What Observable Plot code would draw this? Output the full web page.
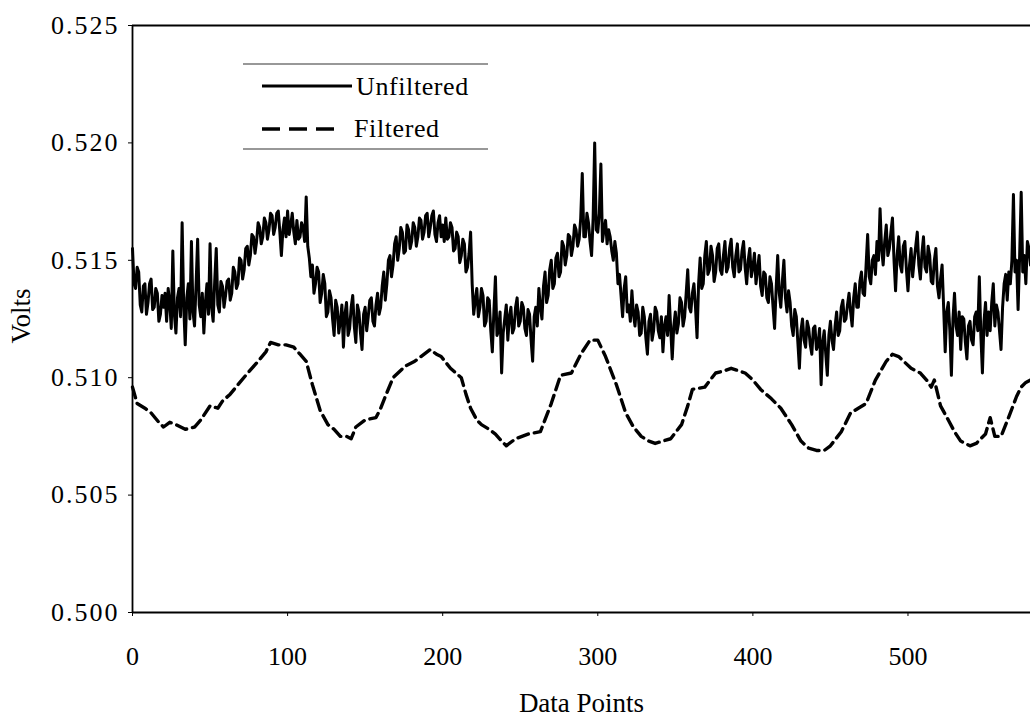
<!DOCTYPE html>
<html>
<head>
<meta charset="utf-8">
<script src="https://cdn.jsdelivr.net/npm/d3@7"></script>
<script src="https://cdn.jsdelivr.net/npm/@observablehq/plot@0.6"></script>
<style>
  body { margin: 0; background: #fff; }
  #chart { position: relative; width: 1030px; height: 718px; overflow: hidden; }
  #chart svg { font-family: "Liberation Serif", "Times New Roman", serif; }
</style>
</head>
<body>
<div id="chart"></div>
<script>
// Raw signal, one reading per data point (x = 0 ... 579), 20 readings per row
const unfilteredVolts = [
  0.5155, 0.5140, 0.5138, 0.5147, 0.5145, 0.5131, 0.5128, 0.5139, 0.5140, 0.5127, 0.5132, 0.5140, 0.5142, 0.5129, 0.5130, 0.5138, 0.5136, 0.5124, 0.5127, 0.5135,
  0.5130, 0.5136, 0.5124, 0.5138, 0.5132, 0.5121, 0.5154, 0.5127, 0.5119, 0.5134, 0.5138, 0.5126, 0.5166, 0.5131, 0.5114, 0.5134, 0.5140, 0.5125, 0.5158, 0.5128,
  0.5122, 0.5140, 0.5159, 0.5131, 0.5126, 0.5136, 0.5119, 0.5132, 0.5140, 0.5127, 0.5157, 0.5130, 0.5124, 0.5141, 0.5155, 0.5131, 0.5128, 0.5141, 0.5139, 0.5130,
  0.5135, 0.5141, 0.5142, 0.5133, 0.5136, 0.5147, 0.5145, 0.5138, 0.5140, 0.5151, 0.5150, 0.5142, 0.5146, 0.5155, 0.5156, 0.5148, 0.5152, 0.5161, 0.5160, 0.5153,
  0.5158, 0.5166, 0.5164, 0.5157, 0.5160, 0.5168, 0.5166, 0.5159, 0.5163, 0.5170, 0.5169, 0.5161, 0.5164, 0.5170, 0.5171, 0.5162, 0.5152, 0.5163, 0.5168, 0.5160,
  0.5171, 0.5161, 0.5165, 0.5170, 0.5162, 0.5157, 0.5167, 0.5159, 0.5160, 0.5166, 0.5164, 0.5158, 0.5177, 0.5156, 0.5151, 0.5143, 0.5148, 0.5136, 0.5140, 0.5147,
  0.5145, 0.5132, 0.5136, 0.5144, 0.5140, 0.5126, 0.5128, 0.5137, 0.5134, 0.5125, 0.5118, 0.5133, 0.5130, 0.5119, 0.5124, 0.5131, 0.5113, 0.5127, 0.5132, 0.5118,
  0.5121, 0.5130, 0.5135, 0.5122, 0.5115, 0.5131, 0.5128, 0.5119, 0.5112, 0.5127, 0.5130, 0.5120, 0.5126, 0.5133, 0.5134, 0.5124, 0.5122, 0.5131, 0.5136, 0.5127,
  0.5130, 0.5139, 0.5145, 0.5133, 0.5140, 0.5150, 0.5152, 0.5143, 0.5148, 0.5157, 0.5160, 0.5150, 0.5155, 0.5164, 0.5162, 0.5153, 0.5154, 0.5165, 0.5163, 0.5155,
  0.5158, 0.5166, 0.5164, 0.5156, 0.5160, 0.5168, 0.5167, 0.5159, 0.5162, 0.5169, 0.5170, 0.5160, 0.5164, 0.5169, 0.5171, 0.5161, 0.5158, 0.5166, 0.5169, 0.5160,
  0.5165, 0.5158, 0.5168, 0.5159, 0.5160, 0.5166, 0.5164, 0.5154, 0.5155, 0.5162, 0.5160, 0.5149, 0.5152, 0.5159, 0.5157, 0.5145, 0.5147, 0.5153, 0.5162, 0.5140,
  0.5127, 0.5133, 0.5138, 0.5126, 0.5130, 0.5138, 0.5135, 0.5122, 0.5124, 0.5134, 0.5133, 0.5120, 0.5111, 0.5128, 0.5143, 0.5118, 0.5120, 0.5128, 0.5102, 0.5119,
  0.5125, 0.5131, 0.5116, 0.5126, 0.5130, 0.5119, 0.5121, 0.5130, 0.5134, 0.5122, 0.5124, 0.5132, 0.5130, 0.5121, 0.5118, 0.5129, 0.5127, 0.5116, 0.5107, 0.5126,
  0.5130, 0.5122, 0.5138, 0.5130, 0.5125, 0.5139, 0.5145, 0.5132, 0.5135, 0.5146, 0.5150, 0.5138, 0.5140, 0.5151, 0.5153, 0.5143, 0.5145, 0.5158, 0.5156, 0.5148,
  0.5152, 0.5161, 0.5160, 0.5152, 0.5156, 0.5165, 0.5163, 0.5156, 0.5159, 0.5168, 0.5187, 0.5160, 0.5160, 0.5170, 0.5166, 0.5158, 0.5152, 0.5168, 0.5200, 0.5163,
  0.5162, 0.5170, 0.5191, 0.5158, 0.5163, 0.5167, 0.5157, 0.5163, 0.5160, 0.5154, 0.5150, 0.5158, 0.5153, 0.5140, 0.5144, 0.5135, 0.5126, 0.5138, 0.5143, 0.5128,
  0.5131, 0.5124, 0.5137, 0.5127, 0.5122, 0.5131, 0.5128, 0.5118, 0.5119, 0.5130, 0.5126, 0.5117, 0.5110, 0.5124, 0.5127, 0.5116, 0.5120, 0.5130, 0.5128, 0.5120,
  0.5117, 0.5126, 0.5111, 0.5122, 0.5126, 0.5118, 0.5135, 0.5121, 0.5108, 0.5122, 0.5128, 0.5119, 0.5123, 0.5134, 0.5132, 0.5122, 0.5126, 0.5136, 0.5146, 0.5130,
  0.5128, 0.5136, 0.5140, 0.5130, 0.5117, 0.5140, 0.5151, 0.5138, 0.5140, 0.5152, 0.5158, 0.5144, 0.5146, 0.5156, 0.5152, 0.5141, 0.5145, 0.5155, 0.5157, 0.5146,
  0.5144, 0.5152, 0.5158, 0.5145, 0.5147, 0.5155, 0.5159, 0.5147, 0.5143, 0.5152, 0.5157, 0.5145, 0.5146, 0.5154, 0.5158, 0.5147, 0.5140, 0.5150, 0.5155, 0.5143,
  0.5147, 0.5153, 0.5140, 0.5146, 0.5152, 0.5139, 0.5135, 0.5145, 0.5144, 0.5134, 0.5132, 0.5143, 0.5140, 0.5130, 0.5121, 0.5138, 0.5152, 0.5136, 0.5130, 0.5141,
  0.5150, 0.5134, 0.5128, 0.5137, 0.5132, 0.5122, 0.5118, 0.5129, 0.5126, 0.5115, 0.5104, 0.5120, 0.5125, 0.5116, 0.5113, 0.5124, 0.5121, 0.5114, 0.5110, 0.5121,
  0.5122, 0.5112, 0.5114, 0.5121, 0.5097, 0.5115, 0.5120, 0.5110, 0.5101, 0.5118, 0.5124, 0.5116, 0.5112, 0.5122, 0.5128, 0.5118, 0.5120, 0.5130, 0.5133, 0.5124,
  0.5125, 0.5131, 0.5136, 0.5128, 0.5122, 0.5134, 0.5140, 0.5130, 0.5130, 0.5141, 0.5145, 0.5136, 0.5135, 0.5148, 0.5161, 0.5143, 0.5140, 0.5150, 0.5152, 0.5144,
  0.5158, 0.5150, 0.5172, 0.5155, 0.5148, 0.5158, 0.5165, 0.5152, 0.5155, 0.5162, 0.5168, 0.5150, 0.5137, 0.5152, 0.5160, 0.5148, 0.5145, 0.5156, 0.5158, 0.5146,
  0.5137, 0.5148, 0.5155, 0.5143, 0.5150, 0.5156, 0.5162, 0.5148, 0.5142, 0.5153, 0.5160, 0.5147, 0.5145, 0.5156, 0.5152, 0.5141, 0.5140, 0.5150, 0.5155, 0.5139,
  0.5134, 0.5142, 0.5148, 0.5130, 0.5111, 0.5128, 0.5132, 0.5120, 0.5101, 0.5125, 0.5136, 0.5122, 0.5118, 0.5128, 0.5112, 0.5126, 0.5125, 0.5115, 0.5108, 0.5122,
  0.5124, 0.5116, 0.5114, 0.5126, 0.5128, 0.5120, 0.5143, 0.5118, 0.5102, 0.5124, 0.5132, 0.5118, 0.5128, 0.5120, 0.5132, 0.5140, 0.5122, 0.5131, 0.5128, 0.5120,
  0.5112, 0.5130, 0.5140, 0.5144, 0.5133, 0.5145, 0.5140, 0.5150, 0.5178, 0.5145, 0.5150, 0.5129, 0.5152, 0.5179, 0.5145, 0.5152, 0.5140, 0.5158, 0.5155, 0.5148
];

// Smoothed signal: data point index and voltage
const filteredPoints = [
  0, 3, 8, 12, 17, 20, 24, 28, 34, 40, 44, 50, 55, 58, 63, 68, 73, 81, 86, 89,
  94, 99, 104, 108, 112, 116, 121, 126, 130, 134, 138, 141, 144, 150, 157, 160, 163, 168, 176, 182,
  186, 192, 196, 199, 205, 212, 215, 218, 222, 225, 230, 234, 238, 241, 247, 255, 263, 270, 276, 283,
  289, 295, 300, 305, 312, 318, 323, 328, 333, 337, 342, 347, 354, 358, 361, 369, 376, 382, 386, 395,
  400, 405, 412, 418, 425, 431, 436, 441, 446, 450, 457, 463, 468, 473, 479, 486, 490, 494, 502, 508,
  512, 515, 517, 521, 526, 530, 534, 540, 544, 550, 553, 556, 560, 566, 570, 573, 576, 579
];
const filteredVolts = [
  0.5096, 0.5089, 0.5087, 0.5085, 0.5081, 0.5079, 0.5081, 0.5080, 0.5078, 0.5079, 0.5082, 0.5088, 0.5087, 0.5090, 0.5093, 0.5097, 0.5101, 0.5107, 0.5111, 0.5115,
  0.5114, 0.5114, 0.5113, 0.5110, 0.5107, 0.5097, 0.5086, 0.5080, 0.5078, 0.5075, 0.5075, 0.5074, 0.5079, 0.5082, 0.5083, 0.5087, 0.5092, 0.5100, 0.5105, 0.5107,
  0.5109, 0.5112, 0.5110, 0.5109, 0.5104, 0.5100, 0.5093, 0.5087, 0.5082, 0.5080, 0.5078, 0.5076, 0.5073, 0.5071, 0.5074, 0.5076, 0.5077, 0.5089, 0.5101, 0.5102,
  0.5110, 0.5116, 0.5116, 0.5109, 0.5097, 0.5085, 0.5079, 0.5075, 0.5073, 0.5072, 0.5073, 0.5074, 0.5080, 0.5088, 0.5095, 0.5096, 0.5102, 0.5103, 0.5104, 0.5102,
  0.5099, 0.5095, 0.5091, 0.5087, 0.5080, 0.5073, 0.5070, 0.5069, 0.5069, 0.5071, 0.5077, 0.5085, 0.5087, 0.5089, 0.5099, 0.5107, 0.5110, 0.5109, 0.5104, 0.5102,
  0.5099, 0.5096, 0.5099, 0.5088, 0.5082, 0.5077, 0.5073, 0.5071, 0.5072, 0.5076, 0.5083, 0.5075, 0.5075, 0.5085, 0.5092, 0.5096, 0.5098, 0.5099
];

const xTicks = [0, 100, 200, 300, 400, 500];
const yTicks = [0.500, 0.505, 0.510, 0.515, 0.520, 0.525];
const seriesNames = ["Unfiltered", "Filtered"];
const xLabel = "Data Points";
const yLabel = "Volts";

const unfiltered = unfilteredVolts.map((v, i) => ({x: i, v}));
const filtered = filteredPoints.map((x, i) => ({x, v: filteredVolts[i]}));

const chart = Plot.plot({
  width: 1030,
  height: 718,
  marginLeft: 132,
  marginRight: 0,
  marginTop: 25,
  marginBottom: 106,
  style: {fontFamily: "'Liberation Serif', serif", fontSize: "26px", color: "#000", background: "#fff", overflow: "visible"},
  x: {domain: [0, 579]},
  y: {domain: [0.5, 0.525]},
  marks: [
    Plot.axisX({ticks: xTicks, tickFormat: d => String(d), tickSize: 4, tickPadding: 30, label: null, fontSize: 26}),
    Plot.axisY({ticks: yTicks, tickFormat: d3.format(".3f"), tickSize: 4, tickPadding: 9, label: null, fontSize: 26}),
    Plot.ruleX([0], {stroke: "#000", strokeWidth: 1.8}),
    Plot.ruleY([0.5, 0.525], {stroke: "#000", strokeWidth: 1.8}),
    Plot.line(unfiltered, {x: "x", y: "v", stroke: "#000", strokeWidth: 3}),
    Plot.line(filtered, {x: "x", y: "v", stroke: "#000", strokeWidth: 3.4, strokeDasharray: "11,6"}),
    Plot.text([yLabel], {frameAnchor: "left", textAnchor: "middle", lineAnchor: "middle", dx: -111, dy: -3, rotate: -90, fontSize: 27, text: d => d}),
    Plot.text([xLabel], {frameAnchor: "bottom", lineAnchor: "middle", dy: 91, fontSize: 27, text: d => d})
  ]
});

document.getElementById("chart").appendChild(chart);

const svg = d3.select(chart);
svg.selectAll('g[aria-label="y-axis tick label"] text').attr("letter-spacing", "2px");

// Boxed legend in the upper-left of the plot area
const legend = svg.append("g").attr("class", "legend").attr("text-anchor", "start");
legend.append("line").attr("x1", 243).attr("x2", 488).attr("y1", 64).attr("y2", 64)
  .attr("stroke", "#333").attr("stroke-width", 1.2);
legend.append("line").attr("x1", 243).attr("x2", 488).attr("y1", 149).attr("y2", 149)
  .attr("stroke", "#333").attr("stroke-width", 1.2);
legend.append("line").attr("x1", 262).attr("x2", 352).attr("y1", 86).attr("y2", 86)
  .attr("stroke", "#000").attr("stroke-width", 3.2);
legend.append("line").attr("x1", 262).attr("x2", 340).attr("y1", 129).attr("y2", 129)
  .attr("stroke", "#000").attr("stroke-width", 3.4).attr("stroke-dasharray", "18,9");
legend.append("text").attr("x", 356).attr("y", 95).text(seriesNames[0])
  .attr("font-size", 26).attr("letter-spacing", "0.6px").attr("fill", "#000");
legend.append("text").attr("x", 354).attr("y", 137).text(seriesNames[1])
  .attr("font-size", 26).attr("letter-spacing", "0.6px").attr("fill", "#000");
</script>
</body>
</html>
